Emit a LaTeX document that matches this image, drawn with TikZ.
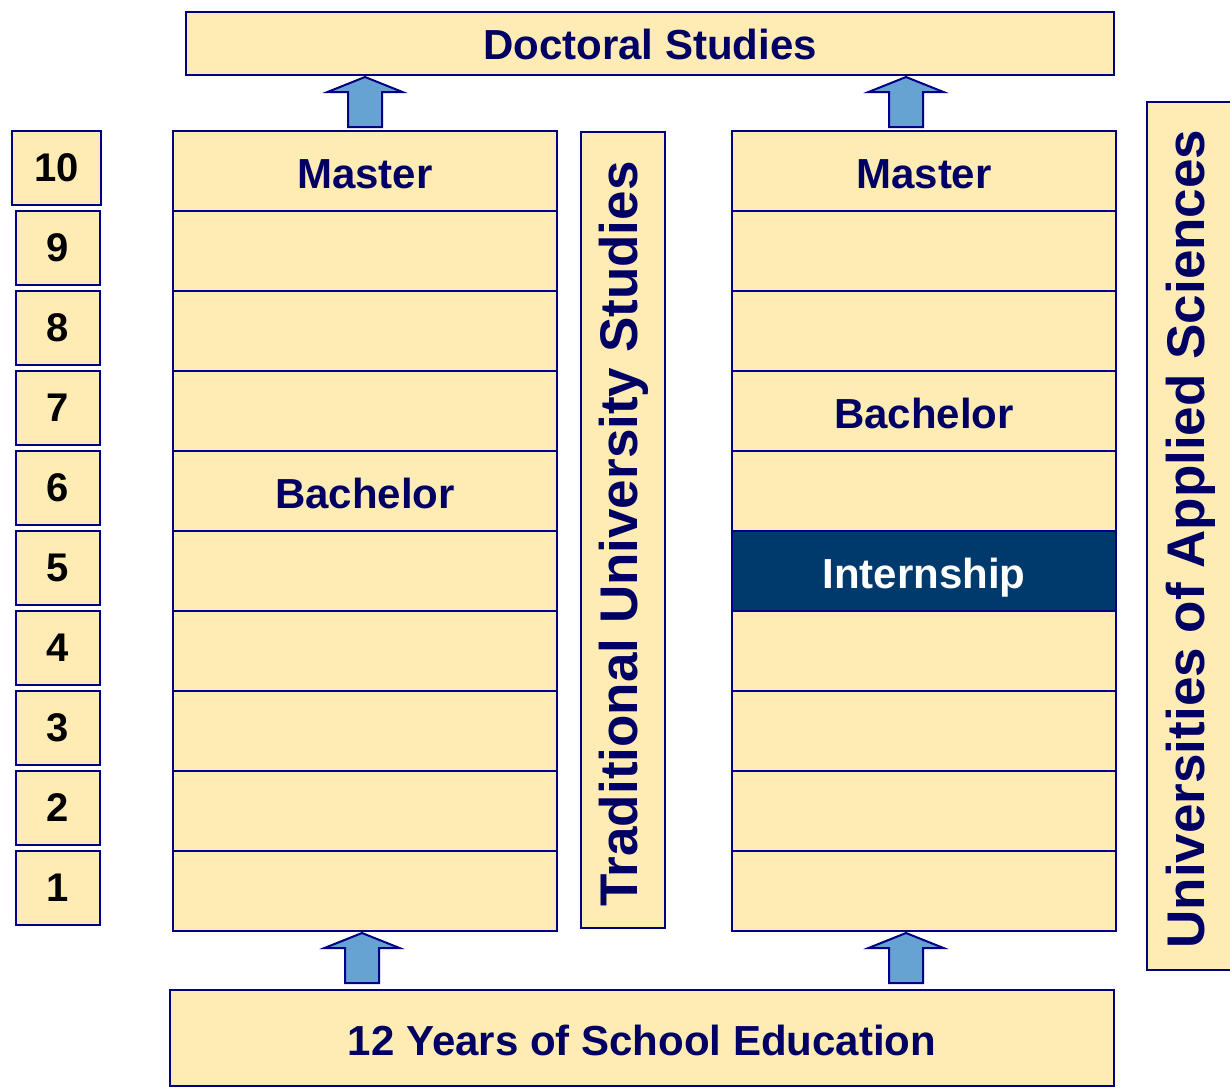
\documentclass[tikz,border=0pt]{standalone}
\usepackage{fontspec}
\setmainfont{Liberation Sans}
\definecolor{cellfill}{RGB}{255,235,180}
\definecolor{navyline}{RGB}{0,0,135}
\definecolor{navytext}{RGB}{0,0,100}
\definecolor{internfill}{RGB}{0,58,108}
\definecolor{arrowfill}{RGB}{102,163,210}
\tikzset{
  cell/.style={draw=navyline, fill=cellfill, line width=2.4pt, inner sep=0pt, outer sep=0pt,
    minimum width=384pt, minimum height=80pt},
  celltext/.style={anchor=base, inner sep=0pt, text=navytext, font=\fontsize{42}{48}\selectfont\bfseries},
  numbox/.style={draw=navyline, fill=cellfill, line width=2.6pt, inner sep=0pt, outer sep=0pt,
    minimum width=84pt, minimum height=74pt, text=black, text depth=0pt,
    font=\fontsize{40}{46}\selectfont\bfseries},
  bigbox/.style={draw=navyline, fill=cellfill, line width=2.4pt, inner sep=0pt, outer sep=0pt},
  vertbox/.style={draw=navyline, fill=cellfill, line width=2.4pt, inner sep=0pt, outer sep=0pt},
  verttext/.style={rotate=90, text=navytext, font=\fontsize{53}{60}\selectfont\bfseries, inner sep=0pt},
  arrowstyle/.style={draw=navyline, fill=arrowfill, line width=2pt, line join=miter},
  blockup/.pic={\draw[arrowstyle] (-17,0) -- (-17,-35) -- (-37.5,-35) -- (0,-50) -- (37.5,-35) -- (17,-35) -- (17,0) -- cycle;}
}
\begin{document}
\begin{tikzpicture}[x=1pt,y=-1pt]
\useasboundingbox (0,0) rectangle (1230,1088);
% top and bottom boxes
\node[bigbox, minimum width=928pt, minimum height=63pt] (doc) at (650,43.5) {};
\node[celltext] (doct) at (650,59) {Doctoral Studies};
\node[bigbox, minimum width=944pt, minimum height=96pt] (school) at (642,1038) {};
\node[celltext] (schoolt) at (642,1055) {12 Years of School Education};
% columns
\foreach \i in {1,...,10} {
  \node[cell] (L\i) at (365,{171+(10-\i)*80}) {};
  \node[cell] (R\i) at (924,{171+(10-\i)*80}) {};
}
\node[cell, fill=internfill] (intern) at (R5) {};
\node[celltext] (lm) at (365,188) {Master};
\node[celltext] (lb) at (365,508) {Bachelor};
\node[celltext] (rm) at (924,188) {Master};
\node[celltext] (rb) at (924,428) {Bachelor};
\node[celltext, text=white] (internt) at (924,588) {Internship};
% vertical boxes
\node[vertbox, minimum width=84pt, minimum height=796pt] (trad) at (623,530) {};
\node[verttext] (tradt) at (624,534) {Traditional University Studies};
\node[vertbox, minimum width=88pt, minimum height=868pt] (uas) at (1191,536) {};
\node[verttext] (uast) at (1191,539) {Universities of Applied Sciences};
% number boxes
\node[numbox, minimum width=89pt] (N10) at (56.5,168) {10};
\foreach \i in {1,...,9} {
  \node[numbox] (N\i) at (58,{248+(9-\i)*80}) {\i};
}
% arrows
\pic at (365,127) {blockup};
\pic at (906,127) {blockup};
\pic at (362,983) {blockup};
\pic at (906,983) {blockup};
\end{tikzpicture}
\end{document}
